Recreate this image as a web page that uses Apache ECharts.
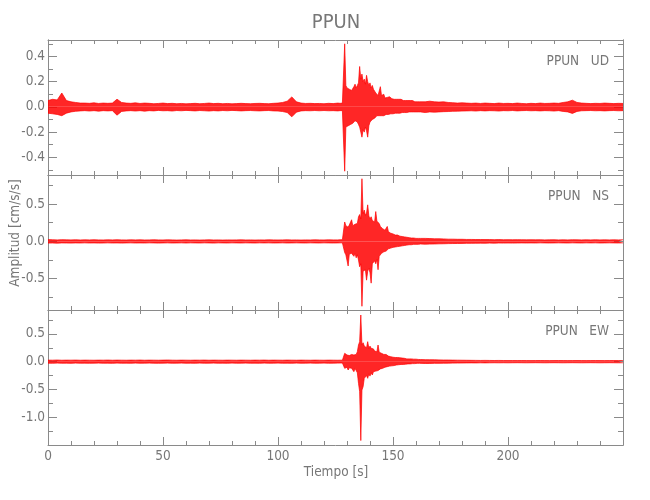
<!DOCTYPE html>
<html><head><meta charset="utf-8">
<script src="https://cdn.jsdelivr.net/npm/echarts@6/dist/echarts.min.js"></script>
<style>html,body{margin:0;padding:0;background:#fff}#c{width:650px;height:500px}</style>
</head><body><div id="c"></div>
<script>
// ---------- DATA ----------
// Sample-time grid (s): [start, end, step] -- quiet pre-event, event window, coda
const gridSegments = [[0, 126, 2], [126.5, 162, 0.5], [164, 250, 2]];

const panelNames = ['PPUN   UD', 'PPUN   NS', 'PPUN   EW'];
const xTicks = [0, 50, 100, 150, 200];

// envelope of trace (upper / lower peaks), cm/s/s
// UD component
const udUpper = [
  // 0..126 step 2
  0.05, 0.06, 0.055, 0.11, 0.05, 0.04, 0.035, 0.03, 0.03, 0.028,
  0.032, 0.027, 0.03, 0.028, 0.03, 0.061, 0.035, 0.03, 0.028, 0.032,
  0.027, 0.03, 0.028, 0.025, 0.027, 0.03, 0.026, 0.028, 0.025, 0.027,
  0.024, 0.026, 0.028, 0.025, 0.027, 0.03, 0.026, 0.028, 0.025, 0.027,
  0.024, 0.026, 0.028, 0.026, 0.025, 0.027, 0.028, 0.026, 0.025, 0.028,
  0.03, 0.035, 0.045, 0.079, 0.04, 0.03, 0.027, 0.028, 0.026, 0.027,
  0.025, 0.028, 0.026, 0.03,
  // 126.5..162 step 0.5
  0.03, 0.028, 0.03, 0.03, 0.035,
  0.50, 0.17, 0.15, 0.16, 0.14,
  0.15, 0.13, 0.14, 0.16, 0.18,
  0.15, 0.17, 0.19, 0.32, 0.22,
  0.26, 0.20, 0.22, 0.18, 0.25,
  0.20, 0.17, 0.19, 0.15, 0.17,
  0.14, 0.13, 0.11, 0.10, 0.09,
  0.10, 0.16, 0.09, 0.08, 0.10,
  0.07, 0.08, 0.075, 0.07, 0.08,
  0.07, 0.065, 0.07, 0.06, 0.065,
  0.06, 0.07, 0.06, 0.055, 0.06,
  0.055, 0.05, 0.055, 0.05, 0.055,
  0.05, 0.045, 0.05, 0.045, 0.05,
  0.045, 0.04, 0.045, 0.04, 0.045,
  0.04, 0.045,
  // 164..250 step 2
  0.04, 0.045, 0.04, 0.038, 0.04, 0.035, 0.033, 0.03, 0.032, 0.03,
  0.028, 0.03, 0.027, 0.03, 0.028, 0.026, 0.03, 0.027, 0.028, 0.026,
  0.03, 0.027, 0.025, 0.028, 0.026, 0.03, 0.027, 0.028, 0.03, 0.028,
  0.035, 0.04, 0.053, 0.035, 0.03, 0.028, 0.026, 0.028, 0.027, 0.03,
  0.028, 0.026, 0.028, 0.027
];
const udLower = [
  -0.05, -0.055, -0.06, -0.07, -0.05, -0.04, -0.035, -0.032, -0.03, -0.033,
  -0.03, -0.034, -0.03, -0.032, -0.03, -0.066, -0.036, -0.032, -0.03, -0.033,
  -0.03, -0.034, -0.03, -0.032, -0.028, -0.031, -0.03, -0.033, -0.029, -0.031,
  -0.028, -0.03, -0.032, -0.029, -0.031, -0.033, -0.03, -0.032, -0.029, -0.031,
  -0.028, -0.03, -0.032, -0.03, -0.029, -0.031, -0.032, -0.03, -0.029, -0.032,
  -0.033, -0.037, -0.045, -0.079, -0.042, -0.032, -0.03, -0.031, -0.029, -0.031,
  -0.029, -0.031, -0.03, -0.032,
  -0.03, -0.03, -0.028, -0.03, -0.035,
  -0.51, -0.16, -0.17, -0.15, -0.16,
  -0.14, -0.15, -0.13, -0.12, -0.11,
  -0.10, -0.12, -0.14, -0.16, -0.20,
  -0.24, -0.18, -0.20, -0.16, -0.19,
  -0.24, -0.15, -0.12, -0.11, -0.10,
  -0.11, -0.09, -0.08, -0.07, -0.08,
  -0.07, -0.06, -0.07, -0.06, -0.07,
  -0.06, -0.06, -0.055, -0.06, -0.05,
  -0.055, -0.05, -0.055, -0.05, -0.05,
  -0.045, -0.05, -0.045, -0.05, -0.045,
  -0.045, -0.04, -0.045, -0.04, -0.045,
  -0.04, -0.04, -0.045, -0.04, -0.04,
  -0.04, -0.035, -0.04, -0.035, -0.04,
  -0.035, -0.04,
  -0.045, -0.04, -0.042, -0.04, -0.038, -0.037, -0.035, -0.034, -0.033, -0.032,
  -0.031, -0.033, -0.03, -0.032, -0.03, -0.031, -0.033, -0.03, -0.031, -0.029,
  -0.032, -0.03, -0.029, -0.031, -0.03, -0.032, -0.03, -0.031, -0.033, -0.03,
  -0.036, -0.04, -0.052, -0.036, -0.031, -0.03, -0.029, -0.031, -0.03, -0.032,
  -0.03, -0.029, -0.031, -0.03
];
// NS component
const nsUpper = [
  0.024, 0.022, 0.02, 0.023, 0.021, 0.02, 0.022, 0.019, 0.021, 0.02,
  0.022, 0.02, 0.019, 0.021, 0.02, 0.022, 0.02, 0.019, 0.021, 0.02,
  0.021, 0.019, 0.02, 0.022, 0.02, 0.019, 0.021, 0.02, 0.018, 0.02,
  0.021, 0.019, 0.02, 0.018, 0.02, 0.021, 0.019, 0.02, 0.018, 0.02,
  0.019, 0.02, 0.021, 0.019, 0.02, 0.018, 0.02, 0.019, 0.021, 0.02,
  0.019, 0.02, 0.021, 0.019, 0.02, 0.018, 0.02, 0.019, 0.021, 0.02,
  0.019, 0.021, 0.02, 0.02,
  0.02, 0.022, 0.02, 0.022, 0.025,
  0.26, 0.21, 0.23, 0.19, 0.22,
  0.20, 0.29, 0.21, 0.19, 0.23,
  0.21, 0.24, 0.33, 0.36, 0.30,
  0.84, 0.37, 0.42, 0.35, 0.38,
  0.49, 0.34, 0.30, 0.33, 0.28,
  0.30, 0.26, 0.40, 0.27, 0.25,
  0.24, 0.20, 0.18, 0.17, 0.16,
  0.15, 0.14, 0.20, 0.13, 0.12,
  0.11, 0.12, 0.10, 0.09, 0.085,
  0.08, 0.085, 0.075, 0.07, 0.075,
  0.065, 0.07, 0.06, 0.06, 0.055,
  0.055, 0.05, 0.05, 0.045, 0.05,
  0.045, 0.045, 0.04, 0.045, 0.04,
  0.04, 0.04,
  0.04, 0.038, 0.035, 0.035, 0.033, 0.03, 0.03, 0.028, 0.028, 0.026,
  0.026, 0.025, 0.025, 0.024, 0.024, 0.023, 0.024, 0.022, 0.023, 0.022,
  0.023, 0.022, 0.021, 0.022, 0.021, 0.022, 0.02, 0.021, 0.022, 0.02,
  0.021, 0.02, 0.022, 0.021, 0.02, 0.021, 0.02, 0.022, 0.02, 0.021,
  0.02, 0.021, 0.02, 0.021
];
const nsLower = [
  -0.023, -0.022, -0.024, -0.021, -0.022, -0.023, -0.021, -0.022, -0.02, -0.022,
  -0.021, -0.023, -0.022, -0.02, -0.022, -0.021, -0.023, -0.021, -0.02, -0.022,
  -0.021, -0.022, -0.02, -0.021, -0.023, -0.021, -0.02, -0.022, -0.021, -0.02,
  -0.022, -0.02, -0.021, -0.022, -0.02, -0.021, -0.023, -0.02, -0.021, -0.022,
  -0.02, -0.021, -0.022, -0.02, -0.021, -0.022, -0.02, -0.021, -0.02, -0.022,
  -0.021, -0.02, -0.022, -0.021, -0.02, -0.021, -0.022, -0.02, -0.021, -0.022,
  -0.02, -0.021, -0.022, -0.021,
  -0.02, -0.02, -0.022, -0.02, -0.025,
  -0.15, -0.18, -0.16, -0.33, -0.17,
  -0.15, -0.16, -0.18, -0.20, -0.16,
  -0.22, -0.18, -0.25, -0.34, -0.30,
  -0.87, -0.40, -0.42, -0.38, -0.52,
  -0.40, -0.36, -0.42, -0.56, -0.30,
  -0.28, -0.26, -0.30, -0.24, -0.38,
  -0.20, -0.18, -0.16, -0.15, -0.14,
  -0.12, -0.13, -0.11, -0.10, -0.11,
  -0.09, -0.09, -0.08, -0.08, -0.075,
  -0.07, -0.07, -0.065, -0.065, -0.06,
  -0.06, -0.055, -0.055, -0.05, -0.05,
  -0.05, -0.045, -0.045, -0.045, -0.04,
  -0.04, -0.04, -0.04, -0.035, -0.04,
  -0.035, -0.035,
  -0.038, -0.036, -0.035, -0.033, -0.032, -0.03, -0.029, -0.028, -0.027, -0.026,
  -0.026, -0.025, -0.024, -0.025, -0.023, -0.024, -0.022, -0.023, -0.022, -0.023,
  -0.022, -0.021, -0.022, -0.021, -0.022, -0.02, -0.021, -0.022, -0.021, -0.02,
  -0.021, -0.022, -0.02, -0.021, -0.022, -0.02, -0.021, -0.02, -0.022, -0.021,
  -0.02, -0.021, -0.022, -0.02
];
// EW component
const ewUpper = [
  0.028, 0.027, 0.03, 0.026, 0.028, 0.027, 0.029, 0.026, 0.028, 0.027,
  0.026, 0.028, 0.027, 0.029, 0.026, 0.028, 0.027, 0.026, 0.028, 0.027,
  0.029, 0.026, 0.028, 0.027, 0.026, 0.028, 0.03, 0.027, 0.026, 0.028,
  0.027, 0.026, 0.028, 0.027, 0.029, 0.026, 0.028, 0.027, 0.026, 0.028,
  0.027, 0.026, 0.028, 0.027, 0.026, 0.028, 0.027, 0.029, 0.026, 0.028,
  0.027, 0.026, 0.028, 0.027, 0.026, 0.028, 0.027, 0.026, 0.028, 0.027,
  0.026, 0.028, 0.027, 0.026,
  0.025, 0.027, 0.025, 0.027, 0.03,
  0.15, 0.13, 0.12, 0.14, 0.11,
  0.12, 0.13, 0.10, 0.12, 0.15,
  0.13, 0.18, 0.30, 0.36, 0.84,
  0.30, 0.34, 0.28, 0.30, 0.25,
  0.36, 0.24, 0.28, 0.24, 0.21,
  0.23, 0.19, 0.22, 0.18, 0.30,
  0.17, 0.16, 0.15, 0.16, 0.13,
  0.12, 0.13, 0.11, 0.10, 0.11,
  0.09, 0.10, 0.08, 0.085, 0.075,
  0.07, 0.075, 0.065, 0.07, 0.06,
  0.065, 0.055, 0.06, 0.055, 0.05,
  0.055, 0.05, 0.045, 0.05, 0.045,
  0.045, 0.04, 0.045, 0.04, 0.04,
  0.04, 0.038,
  0.036, 0.035, 0.034, 0.032, 0.03, 0.03, 0.028, 0.027, 0.026, 0.025,
  0.024, 0.023, 0.022, 0.023, 0.022, 0.021, 0.022, 0.021, 0.02, 0.021,
  0.02, 0.021, 0.02, 0.019, 0.02, 0.021, 0.02, 0.019, 0.02, 0.021,
  0.02, 0.019, 0.02, 0.021, 0.02, 0.019, 0.02, 0.021, 0.02, 0.019,
  0.02, 0.021, 0.02, 0.02
];
const ewLower = [
  -0.027, -0.029, -0.026, -0.028, -0.027, -0.03, -0.026, -0.028, -0.027, -0.029,
  -0.027, -0.026, -0.028, -0.027, -0.03, -0.026, -0.028, -0.027, -0.029, -0.026,
  -0.028, -0.027, -0.026, -0.028, -0.029, -0.027, -0.026, -0.028, -0.027, -0.026,
  -0.028, -0.027, -0.029, -0.026, -0.028, -0.027, -0.026, -0.028, -0.027, -0.029,
  -0.026, -0.028, -0.027, -0.026, -0.028, -0.027, -0.029, -0.026, -0.028, -0.027,
  -0.026, -0.028, -0.027, -0.029, -0.026, -0.028, -0.027, -0.026, -0.028, -0.027,
  -0.026, -0.028, -0.027, -0.026,
  -0.025, -0.025, -0.027, -0.025, -0.03,
  -0.12, -0.14, -0.10, -0.15, -0.11,
  -0.13, -0.12, -0.15, -0.18, -0.12,
  -0.14, -0.20, -0.39, -0.54, -1.42,
  -0.51, -0.45, -0.30, -0.28, -0.25,
  -0.30, -0.22, -0.26, -0.20, -0.24,
  -0.18, -0.20, -0.17, -0.19, -0.16,
  -0.15, -0.13, -0.14, -0.12, -0.11,
  -0.10, -0.11, -0.09, -0.09, -0.08,
  -0.08, -0.075, -0.07, -0.07, -0.065,
  -0.06, -0.06, -0.055, -0.055, -0.05,
  -0.05, -0.05, -0.045, -0.045, -0.045,
  -0.04, -0.04, -0.04, -0.04, -0.035,
  -0.035, -0.035, -0.035, -0.03, -0.035,
  -0.03, -0.03,
  -0.033, -0.032, -0.03, -0.03, -0.028, -0.027, -0.026, -0.025, -0.024, -0.023,
  -0.022, -0.023, -0.021, -0.022, -0.021, -0.02, -0.021, -0.02, -0.021, -0.02,
  -0.019, -0.02, -0.021, -0.02, -0.019, -0.02, -0.021, -0.02, -0.019, -0.02,
  -0.021, -0.02, -0.019, -0.02, -0.021, -0.02, -0.019, -0.02, -0.021, -0.02,
  -0.019, -0.02, -0.021, -0.02
];

// axis ranges and ticks
const yRanges = [[-0.54, 0.53], [-0.92, 0.89], [-1.50, 0.93]];
const yMajor = [[-0.4, -0.2, 0, 0.2, 0.4], [-0.5, 0, 0.5], [-1.0, -0.5, 0, 0.5]];
const yMinor = [[-0.5, -0.3, -0.1, 0.1, 0.3, 0.5], [-0.75, -0.25, 0.25, 0.75], [-1.25, -0.75, -0.25, 0.25, 0.75]];

// ---------- BUILD ----------
const timeSec = [];
gridSegments.forEach(([a, b, s]) => { for (let t = a; t <= b + 1e-9; t += s) timeSec.push(+t.toFixed(2)); });
const uppers = [udUpper, nsUpper, ewUpper];
const lowers = [udLower, nsLower, ewLower];

const FONT = '"Liberation Sans Narrow","DejaVu Sans Condensed","Liberation Sans",sans-serif';
const AX = '#8a8a8a', TX = '#777777', RED = '#ff0000';
const L = 48, R = 27, TOPS = [40, 175, 310], H = 135;

const grids = TOPS.map(t => ({ left: L, right: R, top: t, height: H }));
const xAxes = [], yAxes = [], series = [];
for (let p = 0; p < 3; p++) {
  ['bottom', 'top'].forEach(pos => {
    xAxes.push({
      gridIndex: p, type: 'value', position: pos, min: 0, max: 250, interval: 50,
      axisLine: { show: true, onZero: false, lineStyle: { color: AX, width: 1 } },
      axisTick: { show: true, inside: true, length: 8, lineStyle: { color: AX } },
      minorTick: { show: true, splitNumber: 5, length: 4, lineStyle: { color: AX } },
      splitLine: { show: false }, minorSplitLine: { show: false },
      axisLabel: (p === 2 && pos === 'bottom') ? {
        show: true, margin: 4, color: TX, fontSize: 13.5, fontFamily: FONT,
        customValues: xTicks
      } : { show: false }
    });
  });
  ['left', 'right'].forEach(pos => {
    [[yMajor[p], 9, true], [yMinor[p], 5, false]].forEach(([vals, len, lab]) => {
      yAxes.push({
        gridIndex: p, type: 'value', position: pos, min: yRanges[p][0], max: yRanges[p][1],
        axisLine: { show: true, onZero: false, lineStyle: { color: AX, width: 1 } },
        axisTick: { show: true, inside: true, length: len, customValues: vals, lineStyle: { color: AX } },
        splitLine: { show: false },
        axisLabel: (lab && pos === 'left') ? {
          show: true, customValues: vals, margin: 3, color: TX, fontSize: 13.5, fontFamily: FONT,
          formatter: v => v.toFixed(1)
        } : { show: false }
      });
    });
  });
  [uppers[p], lowers[p]].forEach(arr => {
    series.push({
      type: 'line', xAxisIndex: p * 2, yAxisIndex: p * 4,
      data: timeSec.map((t, i) => [t, arr[i]]),
      symbol: 'none', showSymbol: false, silent: true, clip: true,
      lineStyle: { color: RED, width: 0.7 },
      areaStyle: { color: RED, opacity: 0.85, origin: 0 },
      z: 1
    });
  });
}

const graphic = [
  { type: 'text', x: 336, y: 23, style: { text: 'PPUN', x: 0, y: 0, align: 'center', verticalAlign: 'middle', fontSize: 20, fontFamily: FONT, fill: TX } },
  { type: 'text', x: 15, y: 233, rotation: Math.PI / 2, style: { text: 'Amplitud [cm/s/s]', x: 0, y: 0, align: 'center', verticalAlign: 'middle', fontSize: 13.5, fontFamily: FONT, fill: TX } },
  { type: 'text', x: 336, y: 472, style: { text: 'Tiempo [s]', x: 0, y: 0, align: 'center', verticalAlign: 'middle', fontSize: 13.5, fontFamily: FONT, fill: TX } }
];
panelNames.forEach((nm, p) => {
  graphic.push({ type: 'text', x: 609, y: TOPS[p] + 21, style: { text: nm, x: 0, y: 0, align: 'right', verticalAlign: 'middle', fontSize: 13.5, fontFamily: FONT, fill: TX } });
});

const chart = echarts.init(document.getElementById('c'), null, { renderer: 'canvas' });
chart.setOption({
  animation: false, backgroundColor: '#ffffff',
  grid: grids, xAxis: xAxes, yAxis: yAxes, series: series, graphic: graphic
});
</script></body></html>
